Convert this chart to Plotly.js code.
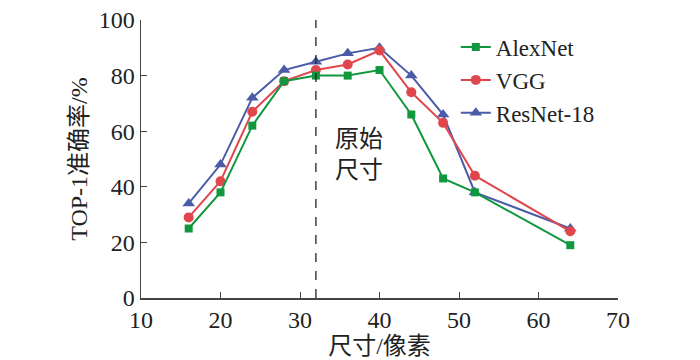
<!DOCTYPE html>
<html><head><meta charset="utf-8">
<script src="https://cdn.plot.ly/plotly-3.0.1.min.js"></script>
<style>html,body{margin:0;padding:0;background:#fff}#c{width:700px;height:360px}</style>
</head><body><div id="c"></div>
<script>
const sizes = [16, 20, 24, 28, 32, 36, 40, 44, 48, 52, 64];
const alexnet = [25, 38, 62, 78, 80, 80, 82, 66, 43, 38, 19];
const vgg = [29, 42, 67, 78, 82, 84, 89, 74, 63, 44, 24];
const resnet = [34, 48, 72, 82, 85, 88, 90, 80, 66, 38, 25];
const xTicks = [10, 20, 30, 40, 50, 60, 70];
const yTicks = [0, 20, 40, 60, 80, 100];
const originalSize = 32;

const F = '"Liberation Serif", "Times New Roman", "Noto Sans CJK SC", serif';
const mk = (name, y, color, symbol, size) => ({
  x: sizes, y: y, name: name, type: 'scatter', mode: 'lines+markers',
  line: {color: color, width: 2}, marker: {color: color, symbol: symbol, size: size}
});
const data = [
  mk('ResNet-18', resnet, '#4a5ca8', 'triangle-up', 11),
  mk('VGG', vgg, '#e0474d', 'circle', 10),
  mk('AlexNet', alexnet, '#11983f', 'square', 8)
];
const layout = {
  width: 700, height: 360,
  margin: {l: 141, r: 82, t: 20, b: 62},
  paper_bgcolor: '#fff', plot_bgcolor: '#fff',
  font: {family: F, size: 24, color: '#222'},
  showlegend: true,
  legend: {x: 0.66, y: 0.98, xanchor: 'left', yanchor: 'top', traceorder: 'reversed',
    font: {family: F, size: 23, color: '#222'}, bgcolor: 'rgba(0,0,0,0)', itemwidth: 30, tracegroupgap: 0},
  xaxis: {range: [10, 70], tickvals: xTicks, ticks: 'inside', ticklen: 6, tickcolor: '#444',
    showline: true, linecolor: '#444', linewidth: 1.5, showgrid: false, zeroline: false,
    tickfont: {family: F, size: 24},
    title: {text: '尺寸/像素', font: {family: F, size: 24}, standoff: 2}},
  yaxis: {range: [0, 100], tickvals: yTicks, ticks: 'inside', ticklen: 6, tickcolor: '#444',
    showline: true, linecolor: '#444', linewidth: 1.5, showgrid: false, zeroline: false,
    tickfont: {family: F, size: 24},
    title: {text: 'TOP-1准确率/%', font: {family: F, size: 24}, standoff: 4}},
  shapes: [{type: 'line', xref: 'x', yref: 'y', x0: originalSize, x1: originalSize, y0: 0, y1: 100,
    line: {color: '#222', width: 1.3, dash: 'dash'}}],
  annotations: [{x: 34.1, y: 51.5, xref: 'x', yref: 'y', text: '原始<br>尺寸', showarrow: false,
    xanchor: 'left', yanchor: 'middle', font: {family: F, size: 24, color: '#222'}, align: 'left'}]
};
Plotly.newPlot('c', data, layout, {displayModeBar: false, staticPlot: true});
</script></body></html>
